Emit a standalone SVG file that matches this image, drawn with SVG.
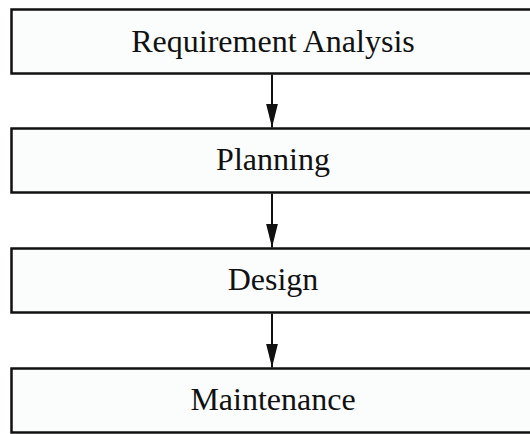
<svg xmlns="http://www.w3.org/2000/svg" width="530" height="434" viewBox="0 0 530 434">
<style>
.box{fill:#fbfdfd;stroke:#111;stroke-width:2.5}
.lbl{font-family:"Liberation Serif","Times New Roman",serif;font-size:32px;fill:#111;text-anchor:middle}
.conn{stroke:#111;stroke-width:2;fill:none}
</style>
<defs>
<marker id="ah" markerUnits="userSpaceOnUse" markerWidth="24" markerHeight="12" refX="24" refY="6" orient="auto" viewBox="0 0 24 12">
<path d="M0,0 L24,6 L0,12 Z" fill="#111"/>
</marker>
</defs>
<rect width="530" height="434" fill="#fff"/>
<g id="node-requirement">
<rect class="box" x="11.5" y="9.5" width="522" height="64"/>
<text class="lbl" x="273" y="52">Requirement Analysis</text>
</g>
<g id="node-planning">
<rect class="box" x="11.5" y="128.5" width="522" height="64"/>
<text class="lbl" x="273" y="170">Planning</text>
</g>
<g id="node-design">
<rect class="box" x="11.5" y="248.5" width="522" height="64"/>
<text class="lbl" x="273" y="290">Design</text>
</g>
<g id="node-maintenance">
<rect class="box" x="11.5" y="368.5" width="522" height="64"/>
<text class="lbl" x="273" y="410">Maintenance</text>
</g>
<g id="connectors">
<line class="conn" x1="272" y1="74.5" x2="272" y2="127.5" marker-end="url(#ah)"/>
<line class="conn" x1="272" y1="193.5" x2="272" y2="247.5" marker-end="url(#ah)"/>
<line class="conn" x1="272" y1="313.5" x2="272" y2="367.5" marker-end="url(#ah)"/>
</g>
</svg>
